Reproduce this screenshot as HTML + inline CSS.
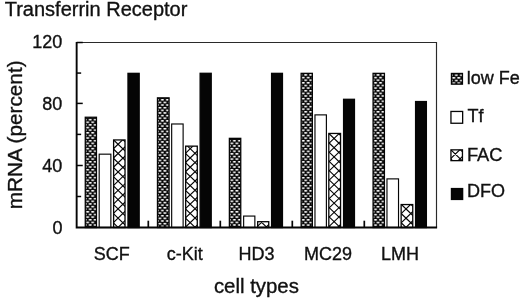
<!DOCTYPE html>
<html><head><meta charset="utf-8"><title>Transferrin Receptor</title>
<style>
html,body{margin:0;padding:0;background:#fff;}
body{width:520px;height:298px;overflow:hidden;}
svg{display:block}
text{font-family:"Liberation Sans",Arial,sans-serif;fill:#111;}
</style></head><body>
<svg width="520" height="298" viewBox="0 0 520 298">
<defs>
<pattern id="dots0" x="85.20" y="205.81" width="5.007" height="5.27" patternUnits="userSpaceOnUse"><rect width="5.007" height="5.27" fill="#0a0a0a"/><rect x="0.95" y="0" width="3.1" height="1.5" rx="0.75" fill="#fff"/><rect x="3.45" y="2.635" width="3.1" height="1.5" rx="0.75" fill="#fff"/><rect x="-1.557" y="2.635" width="3.1" height="1.5" rx="0.75" fill="#fff"/></pattern>
<pattern id="dots1" x="157.40" y="207.05" width="5.007" height="5.27" patternUnits="userSpaceOnUse"><rect width="5.007" height="5.27" fill="#0a0a0a"/><rect x="0.95" y="0" width="3.1" height="1.5" rx="0.75" fill="#fff"/><rect x="3.45" y="2.635" width="3.1" height="1.5" rx="0.75" fill="#fff"/><rect x="-1.557" y="2.635" width="3.1" height="1.5" rx="0.75" fill="#fff"/></pattern>
<pattern id="dots2" x="229.40" y="205.81" width="5.007" height="5.27" patternUnits="userSpaceOnUse"><rect width="5.007" height="5.27" fill="#0a0a0a"/><rect x="0.95" y="0" width="3.1" height="1.5" rx="0.75" fill="#fff"/><rect x="3.45" y="2.635" width="3.1" height="1.5" rx="0.75" fill="#fff"/><rect x="-1.557" y="2.635" width="3.1" height="1.5" rx="0.75" fill="#fff"/></pattern>
<pattern id="dots3" x="300.70" y="208.55" width="5.007" height="5.27" patternUnits="userSpaceOnUse"><rect width="5.007" height="5.27" fill="#0a0a0a"/><rect x="0.95" y="0" width="3.1" height="1.5" rx="0.75" fill="#fff"/><rect x="3.45" y="2.635" width="3.1" height="1.5" rx="0.75" fill="#fff"/><rect x="-1.557" y="2.635" width="3.1" height="1.5" rx="0.75" fill="#fff"/></pattern>
<pattern id="dots4" x="373.04" y="208.55" width="5.007" height="5.27" patternUnits="userSpaceOnUse"><rect width="5.007" height="5.27" fill="#0a0a0a"/><rect x="0.95" y="0" width="3.1" height="1.5" rx="0.75" fill="#fff"/><rect x="3.45" y="2.635" width="3.1" height="1.5" rx="0.75" fill="#fff"/><rect x="-1.557" y="2.635" width="3.1" height="1.5" rx="0.75" fill="#fff"/></pattern>
<pattern id="dots5" x="453.80" y="74.45" width="5.007" height="5.27" patternUnits="userSpaceOnUse"><rect width="5.007" height="5.27" fill="#0a0a0a"/><rect x="0.95" y="0" width="3.1" height="1.5" rx="0.75" fill="#fff"/><rect x="3.45" y="2.635" width="3.1" height="1.5" rx="0.75" fill="#fff"/><rect x="-1.557" y="2.635" width="3.1" height="1.5" rx="0.75" fill="#fff"/></pattern>
</defs>
<rect width="520" height="298" fill="#fff"/>
<text x="4.7" y="16.4" font-size="20" stroke="#111" stroke-width="0.35">Transferrin Receptor</text>
<path d="M76.65 42.5H436.5V227.5" fill="none" stroke="#2a2a2a" stroke-width="1.15"/>
<line x1="76.65" x2="81.15" y1="196.5" y2="196.5" stroke="#050505" stroke-width="1.5"/>
<line x1="76.65" x2="81.15" y1="134.4" y2="134.4" stroke="#050505" stroke-width="1.5"/>
<line x1="76.65" x2="81.15" y1="73.07" y2="73.07" stroke="#050505" stroke-width="1.5"/>
<line x1="76.65" x2="82.75" y1="165.5" y2="165.5" stroke="#050505" stroke-width="1.5"/>
<line x1="76.65" x2="82.75" y1="103.4" y2="103.4" stroke="#050505" stroke-width="1.5"/>
<line x1="76.65" x2="82.75" y1="42.5" y2="42.5" stroke="#050505" stroke-width="1.5"/>
<text x="62.4" y="233.65" font-size="18" text-anchor="end" stroke="#111" stroke-width="0.35">0</text>
<text x="62.4" y="171.65" font-size="18" text-anchor="end" stroke="#111" stroke-width="0.35">40</text>
<text x="62.4" y="109.6" font-size="18" text-anchor="end" stroke="#111" stroke-width="0.35">80</text>
<text x="62.4" y="47.9" font-size="18" text-anchor="end" stroke="#111" stroke-width="0.35">120</text>
<line x1="148.30" x2="148.30" y1="227.5" y2="220.7" stroke="#050505" stroke-width="1.7"/>
<line x1="220.30" x2="220.30" y1="227.5" y2="220.7" stroke="#050505" stroke-width="1.7"/>
<line x1="292.30" x2="292.30" y1="227.5" y2="220.7" stroke="#050505" stroke-width="1.7"/>
<line x1="364.30" x2="364.30" y1="227.5" y2="220.7" stroke="#050505" stroke-width="1.7"/>
<rect x="85.28" y="117.25" width="11.17" height="110.25" fill="url(#dots0)" stroke="#050505" stroke-width="1.3"/>
<rect x="99.18" y="154.17" width="11.68" height="73.33" fill="#fff" stroke="#050505" stroke-width="1.15"/>
<rect x="113.62" y="139.95" width="11.40" height="87.55" fill="#fff"/>
<clipPath id="c0"><rect x="113.62" y="139.95" width="11.40" height="87.55"/></clipPath>
<path clip-path="url(#c0)" d="M112.62 140.25L126.02 127.35M112.62 149.49L126.02 136.59M112.62 158.73L126.02 145.83M112.62 167.97L126.02 155.07M112.62 177.21L126.02 164.31M112.62 186.45L126.02 173.55M112.62 195.69L126.02 182.79M112.62 204.93L126.02 192.03M112.62 214.17L126.02 201.27M112.62 223.41L126.02 210.51M112.62 222.15L126.02 235.05M112.62 232.65L126.02 219.75M112.62 212.91L126.02 225.81M112.62 203.67L126.02 216.57M112.62 194.43L126.02 207.33M112.62 185.19L126.02 198.09M112.62 175.95L126.02 188.85M112.62 166.71L126.02 179.61M112.62 157.47L126.02 170.37M112.62 148.23L126.02 161.13M112.62 138.99L126.02 151.89M112.62 129.75L126.02 142.65" stroke="#050505" stroke-width="1.15" fill="none"/>
<rect x="113.62" y="139.95" width="11.40" height="87.55" fill="none" stroke="#050505" stroke-width="1.3"/>
<rect x="127.98" y="73.35" width="11.20" height="154.15" fill="#050505" stroke="#050505" stroke-width="1.3"/>
<text x="111.65" y="260" font-size="18" text-anchor="middle" stroke="#111" stroke-width="0.35">SCF</text>
<rect x="157.48" y="97.85" width="11.60" height="129.65" fill="url(#dots1)" stroke="#050505" stroke-width="1.3"/>
<rect x="171.67" y="123.98" width="11.45" height="103.52" fill="#fff" stroke="#050505" stroke-width="1.15"/>
<rect x="185.68" y="146.15" width="11.60" height="81.35" fill="#fff"/>
<clipPath id="c1"><rect x="185.68" y="146.15" width="11.60" height="81.35"/></clipPath>
<path clip-path="url(#c1)" d="M184.68 153.99L198.28 140.90M184.68 163.23L198.28 150.14M184.68 172.47L198.28 159.38M184.68 181.71L198.28 168.62M184.68 190.95L198.28 177.86M184.68 200.19L198.28 187.10M184.68 209.43L198.28 196.34M184.68 226.53L198.28 239.62M184.68 218.67L198.28 205.58M184.68 217.29L198.28 230.38M184.68 227.91L198.28 214.82M184.68 208.05L198.28 221.14M184.68 237.15L198.28 224.06M184.68 198.81L198.28 211.90M184.68 189.57L198.28 202.66M184.68 180.33L198.28 193.42M184.68 171.09L198.28 184.18M184.68 161.85L198.28 174.94M184.68 152.61L198.28 165.70M184.68 143.37L198.28 156.46M184.68 134.13L198.28 147.22" stroke="#050505" stroke-width="1.15" fill="none"/>
<rect x="185.68" y="146.15" width="11.60" height="81.35" fill="none" stroke="#050505" stroke-width="1.3"/>
<rect x="200.12" y="73.30" width="11.10" height="154.20" fill="#050505" stroke="#050505" stroke-width="1.3"/>
<text x="184.65" y="260" font-size="18" text-anchor="middle" stroke="#111" stroke-width="0.35">c-Kit</text>
<rect x="229.38" y="138.35" width="11.37" height="89.15" fill="url(#dots2)" stroke="#050505" stroke-width="1.3"/>
<rect x="243.64" y="216.07" width="11.22" height="11.43" fill="#fff" stroke="#050505" stroke-width="1.15"/>
<rect x="257.68" y="221.70" width="11.07" height="5.80" fill="#fff"/>
<clipPath id="c2"><rect x="257.68" y="221.70" width="11.07" height="5.80"/></clipPath>
<path clip-path="url(#c2)" d="M256.68 226.85L269.75 239.42M256.68 217.61L269.75 230.18M256.68 226.99L269.75 214.42M256.68 208.37L269.75 220.94M256.68 236.23L269.75 223.66" stroke="#050505" stroke-width="1.15" fill="none"/>
<rect x="257.68" y="221.70" width="11.07" height="5.80" fill="none" stroke="#050505" stroke-width="1.3"/>
<rect x="271.58" y="73.35" width="10.87" height="154.15" fill="#050505" stroke="#050505" stroke-width="1.3"/>
<text x="256.45" y="260" font-size="18" text-anchor="middle" stroke="#111" stroke-width="0.35">HD3</text>
<rect x="301.15" y="73.35" width="11.20" height="154.15" fill="url(#dots3)" stroke="#050505" stroke-width="1.3"/>
<rect x="314.97" y="114.88" width="11.42" height="112.62" fill="#fff" stroke="#050505" stroke-width="1.15"/>
<rect x="328.82" y="133.45" width="11.73" height="94.05" fill="#fff"/>
<clipPath id="c3"><rect x="328.82" y="133.45" width="11.73" height="94.05"/></clipPath>
<path clip-path="url(#c3)" d="M327.82 135.22L341.55 122.00M327.82 144.46L341.55 131.24M327.82 153.70L341.55 140.48M327.82 162.94L341.55 149.72M327.82 172.18L341.55 158.96M327.82 181.42L341.55 168.20M327.82 190.66L341.55 177.44M327.82 199.90L341.55 186.68M327.82 209.14L341.55 195.92M327.82 224.82L341.55 238.04M327.82 218.38L341.55 205.16M327.82 215.58L341.55 228.80M327.82 227.62L341.55 214.40M327.82 206.34L341.55 219.56M327.82 236.86L341.55 223.64M327.82 197.10L341.55 210.32M327.82 187.86L341.55 201.08M327.82 178.62L341.55 191.84M327.82 169.38L341.55 182.60M327.82 160.14L341.55 173.36M327.82 150.90L341.55 164.12M327.82 141.66L341.55 154.88M327.82 132.42L341.55 145.64M327.82 123.18L341.55 136.40" stroke="#050505" stroke-width="1.15" fill="none"/>
<rect x="328.82" y="133.45" width="11.73" height="94.05" fill="none" stroke="#050505" stroke-width="1.3"/>
<rect x="343.58" y="99.30" width="10.87" height="128.20" fill="#050505" stroke="#050505" stroke-width="1.3"/>
<text x="327.95" y="260" font-size="18" text-anchor="middle" stroke="#111" stroke-width="0.35">MC29</text>
<rect x="373.08" y="73.35" width="11.33" height="154.15" fill="url(#dots4)" stroke="#050505" stroke-width="1.3"/>
<rect x="386.97" y="178.88" width="11.55" height="48.62" fill="#fff" stroke="#050505" stroke-width="1.15"/>
<rect x="401.15" y="204.55" width="11.60" height="22.95" fill="#fff"/>
<clipPath id="c4"><rect x="401.15" y="204.55" width="11.60" height="22.95"/></clipPath>
<path clip-path="url(#c4)" d="M400.15 205.31L413.75 192.22M400.15 214.55L413.75 201.46M400.15 223.79L413.75 210.70M400.15 221.77L413.75 234.86M400.15 233.03L413.75 219.94M400.15 212.53L413.75 225.62M400.15 203.29L413.75 216.38M400.15 194.05L413.75 207.14" stroke="#050505" stroke-width="1.15" fill="none"/>
<rect x="401.15" y="204.55" width="11.60" height="22.95" fill="none" stroke="#050505" stroke-width="1.3"/>
<rect x="415.58" y="101.55" width="10.80" height="125.95" fill="#050505" stroke="#050505" stroke-width="1.3"/>
<text x="400.05" y="260" font-size="18" text-anchor="middle" stroke="#111" stroke-width="0.35">LMH</text>
<path d="M76.65 41.9V227.5H437.1" fill="none" stroke="#050505" stroke-width="1.9"/>
<text x="256.4" y="292.5" font-size="20.4" text-anchor="middle" stroke="#111" stroke-width="0.35">cell types</text>
<text transform="translate(21.5,134.8) rotate(-90)" font-size="20.75" text-anchor="middle" stroke="#111" stroke-width="0.35">mRNA (percent)</text>
<rect x="451.45" y="73.45" width="11.00" height="10.70" fill="url(#dots5)" stroke="#050505" stroke-width="1.3"/>
<text x="466.7" y="84.1" font-size="18" stroke="#111" stroke-width="0.35">low Fe</text>
<rect x="450.95" y="111.45" width="11.70" height="11.80" fill="#fff" stroke="#050505" stroke-width="1.3"/>
<text x="467.4" y="122.1" font-size="18" stroke="#111" stroke-width="0.35">Tf</text>
<rect x="450.95" y="149.85" width="11.50" height="10.80" fill="#fff"/>
<clipPath id="cl"><rect x="450.95" y="149.85" width="11.50" height="10.80"/></clipPath>
<path clip-path="url(#cl)" d="M449.95 158.19L463.45 171.18M449.95 150.01L463.45 137.02M449.95 148.95L463.45 161.94M449.95 159.25L463.45 146.26M449.95 139.71L463.45 152.70M449.95 168.49L463.45 155.50" stroke="#050505" stroke-width="1.15" fill="none"/>
<rect x="450.95" y="149.85" width="11.50" height="10.80" fill="none" stroke="#050505" stroke-width="1.3"/>
<text x="466.9" y="160.7" font-size="18.3" stroke="#111" stroke-width="0.35">FAC</text>
<rect x="451.45" y="188.55" width="11.20" height="10.90" fill="#050505" stroke="#050505" stroke-width="1.3"/>
<text x="466.9" y="197.3" font-size="18" stroke="#111" stroke-width="0.35">DFO</text>
</svg>
</body></html>
